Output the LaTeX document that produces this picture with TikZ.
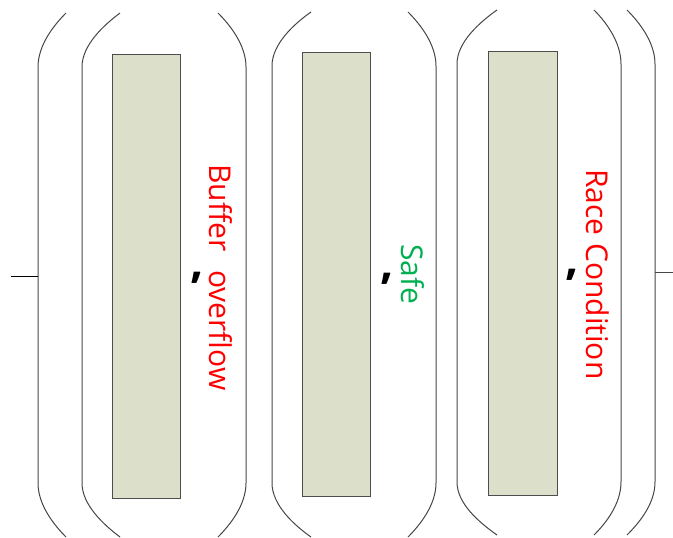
\documentclass[tikz,border=0pt]{standalone}
\usepackage{fontspec}
\setmainfont{Open Sans}
\definecolor{boxfill}{RGB}{220,224,203}
\definecolor{boxline}{RGB}{77,77,77}
\definecolor{parline}{RGB}{70,70,70}
\definecolor{safegreen}{RGB}{0,176,80}
\begin{document}
\begin{tikzpicture}[x=1pt,y=-1pt,
  bar/.style={draw=boxline,fill=boxfill,line width=1pt,inner sep=0pt,minimum width=68pt},
  paren/.style={draw=parline,line width=1pt},
  lab/.style={rotate=-90,anchor=base west,inner sep=0pt,font=\fontsize{30}{36}\selectfont},
  comma/.style={inner sep=0pt,font=\fontsize{46}{50}\selectfont\bfseries}]
\useasboundingbox (0,0) rectangle (673,538);
% outer left
\draw[paren] (66,13) .. controls (54,25) and (38,45) .. (38,67) -- (38,483) .. controls (38,505) and (54,525) .. (66,537);
% group 1
\draw[paren] (120,13) .. controls (104,25) and (82,45) .. (82,67) -- (82,483) .. controls (82,505) and (104,525) .. (120,537);
\draw[paren] (218,13) .. controls (230,25) and (246,45) .. (246,67) -- (246,483) .. controls (246,505) and (230,525) .. (218,537);
% group 2
\draw[paren] (311,12) .. controls (294,24) and (272,44) .. (272,66) -- (272,483) .. controls (272,505) and (294,525) .. (311,537);
\draw[paren] (408,12) .. controls (420,24) and (436,44) .. (436,66) -- (436,483) .. controls (436,505) and (420,525) .. (408,537);
% group 3
\draw[paren] (497,10) .. controls (480,22) and (457,42) .. (457,64) -- (457,482) .. controls (457,504) and (480,523) .. (497,535);
\draw[paren] (594,10) .. controls (606,22) and (621,42) .. (621,64) -- (621,482) .. controls (621,504) and (606,523) .. (594,535);
% outer right
\draw[paren] (627,10) .. controls (639,22) and (655,42) .. (655,64) -- (655,482) .. controls (655,504) and (639,523) .. (627,535);
% bars
\node[bar,minimum height=444pt] (r1) at (146,276) {};
\node[bar,minimum height=444pt] (r2) at (336,274) {};
\node[bar,minimum height=444pt,minimum width=69pt] (r3) at (522.5,273) {};
% commas
\node[comma] (c1) at (197,278) {,};
\node[comma] (c2) at (387,279) {,};
\node[comma] (c3) at (572,275) {,};
% labels
\node[lab,text=red] (t1) at (209,164) {Buffer\hspace{11pt} overflow};
\node[lab,text=safegreen] (t2) at (401,244) {Safe};
\node[lab,text=red] (t3) at (586,169) {Race Condition};
% side lines
\coordinate (la) at (11,276);
\coordinate (lb) at (38,276);
\coordinate (ra) at (655,272);
\coordinate (rb) at (673,272);
\draw[line width=1pt] (la) -- (lb);
\draw[draw=parline,line width=1pt] (ra) -- (rb);
\end{tikzpicture}
\end{document}
